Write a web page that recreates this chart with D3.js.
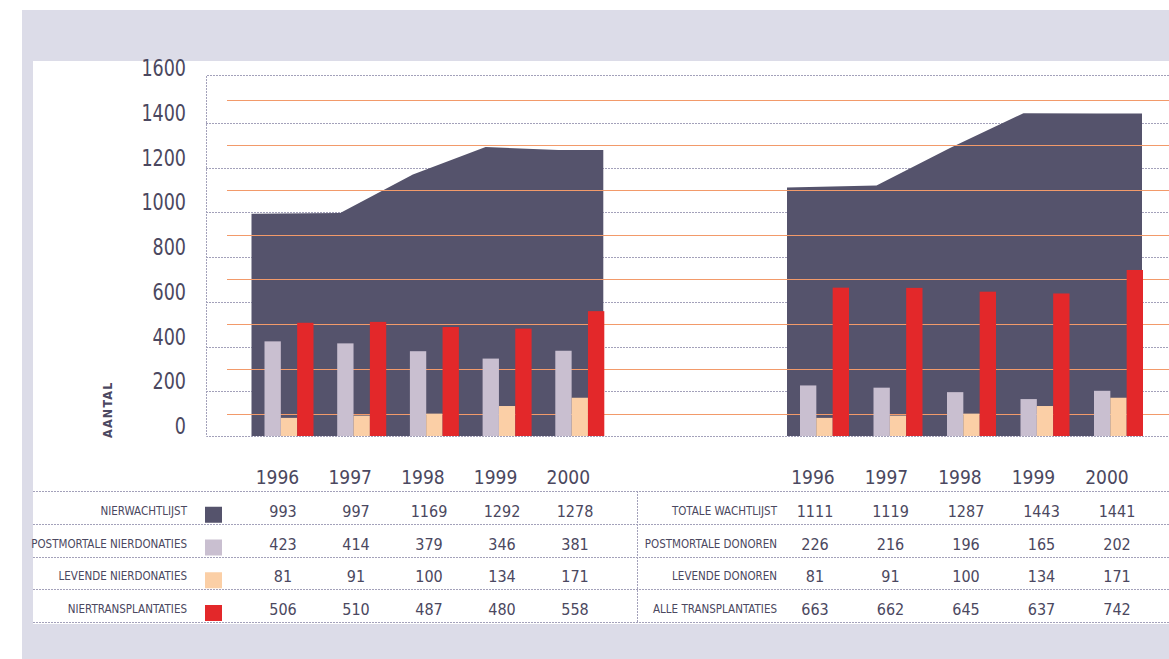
<!DOCTYPE html>
<html>
<head>
<meta charset="utf-8">
<script src="https://cdn.jsdelivr.net/npm/d3@7"></script>
<style>
  html, body { margin: 0; padding: 0; background: #ffffff; }
  svg { display: block; }
</style>
</head>
<body>
<svg id="chart" width="1169" height="659"></svg>
<script>
// Jaren en reeksen: nieren (links) en totaal (rechts)
const years = ["1996", "1997", "1998", "1999", "2000"];

const nierWachtlijst       = [993, 997, 1169, 1292, 1278];
const postmortaleNier      = [423, 414, 379, 346, 381];
const levendeNier          = [81, 91, 100, 134, 171];
const nierTransplantaties  = [506, 510, 487, 480, 558];

const totaleWachtlijst     = [1111, 1119, 1287, 1443, 1441];
const postmortaleDonoren   = [226, 216, 196, 165, 202];
const levendeDonoren       = [81, 91, 100, 134, 171];
const alleTransplantaties  = [663, 662, 645, 637, 742];

const labelsNier   = ["NIERWACHTLIJST", "POSTMORTALE NIERDONATIES", "LEVENDE NIERDONATIES", "NIERTRANSPLANTATIES"];
const labelsTotaal = ["TOTALE WACHTLIJST", "POSTMORTALE DONOREN", "LEVENDE DONOREN", "ALLE TRANSPLANTATIES"];

const yTicks       = [0, 200, 400, 600, 800, 1000, 1200, 1400, 1600];
const yOrangeLines = [100, 300, 500, 700, 900, 1100, 1300, 1500];
const axisTitle = "AANTAL";

// Kleuren
const C = {
  frame: "#dcdce8",
  text: "#4b4860",
  grid: "#a3a1ba",
  orange: "#f29a6a",
  area: "#55536c",
  post: "#c9bfd0",
  lev: "#fbcfa6",
  trans: "#e3282a"
};

const svg = d3.select("#chart");
const W = 1169, H = 659;

// Achtergrond: lila kader met wit paneel
svg.append("rect").attr("x", 22).attr("y", 10).attr("width", W - 22).attr("height", H - 10).attr("fill", C.frame);
svg.append("rect").attr("x", 33).attr("y", 61).attr("width", W - 33).attr("height", 563).attr("fill", "#ffffff");

const y = d3.scaleLinear().domain([0, 1600]).range([436, 78]);
const plotLeft = 206, plotRight = W, orangeLeft = 227;
const snap = v => Math.round(v) + 0.5;

// Grijze rasterlijnen (gestippeld)
const gGrid = svg.append("g");
gGrid.selectAll("line.g")
  .data(yTicks.filter(t => t > 0 && t < 1600))
  .join("line")
  .attr("x1", plotLeft).attr("x2", plotRight)
  .attr("y1", d => snap(y(d))).attr("y2", d => snap(y(d)))
  .attr("stroke", C.grid).attr("stroke-width", 1).attr("stroke-dasharray", "2,1");

// Kader van het grafiekvlak
gGrid.append("path")
  .attr("d", `M${plotRight},${snap(y(1600)) - 3}H${plotLeft + 0.5}V${snap(y(0))}H${plotRight}`)
  .attr("fill", "none").attr("stroke", C.grid).attr("stroke-width", 1).attr("stroke-dasharray", "2,1");

// Twee groepen: nieren en totaal
const groups = [
  { x0: 249.5, step: 72.7, wacht: nierWachtlijst, post: postmortaleNier, lev: levendeNier, trans: nierTransplantaties,
    labels: labelsNier, swatches: true, tableX: [283, 575], labelRight: 187 },
  { x0: 785, step: 73.5, wacht: totaleWachtlijst, post: postmortaleDonoren, lev: levendeDonoren, trans: alleTransplantaties,
    labels: labelsTotaal, swatches: false, tableX: [815, 1117], labelRight: 777 }
];

const inner = d3.scaleBand().domain(["post", "lev", "trans"]).range([15, 64]);

const gArea = svg.append("g");
const gOrange = svg.append("g");
const gBars = svg.append("g");

groups.forEach(g => {
  g.slot = d3.scaleBand().domain(years).range([g.x0, g.x0 + years.length * g.step]);

  // Wachtlijst als vlak
  const pts = [{ x: g.slot(years[0]) + 2, v: g.wacht[0] }];
  years.forEach((yr, i) => { if (i > 0) pts.push({ x: g.slot(yr) + 18, v: g.wacht[i] }); });
  pts.push({ x: g.slot(years[years.length - 1]) + inner.range()[1] - 1, v: g.wacht[years.length - 1] });

  const area = d3.area().x(d => d.x).y0(y(0)).y1(d => y(d.v)).curve(d3.curveLinear);
  gArea.append("path").datum(pts).attr("d", area).attr("fill", C.area);

  // Staven
  const series = [["post", g.post], ["lev", g.lev], ["trans", g.trans]];
  series.forEach(([key, vals]) => {
    gBars.selectAll(null)
      .data(years.map((yr, i) => ({ yr, v: vals[i] })))
      .join("rect")
      .attr("x", d => g.slot(d.yr) + inner(key))
      .attr("width", inner.bandwidth())
      .attr("y", d => y(d.v))
      .attr("height", d => y(0) - y(d.v))
      .attr("fill", C[key]);
  });

  // Jaartallen onder de grafiek
  svg.append("g").selectAll("text")
    .data(years)
    .join("text")
    .attr("x", d => g.slot(d) + 28)
    .attr("y", 484)
    .attr("text-anchor", "middle")
    .attr("font-family", "'DejaVu Sans Condensed', 'DejaVu Sans', sans-serif")
    .attr("font-size", 19)
    .attr("fill", C.text)
    .text(d => d);
});

// Oranje hulplijnen over het vlak, achter de staven
gOrange.selectAll("line")
  .data(yOrangeLines)
  .join("line")
  .attr("x1", orangeLeft).attr("x2", plotRight)
  .attr("y1", d => snap(y(d))).attr("y2", d => snap(y(d)))
  .attr("stroke", C.orange).attr("stroke-width", 1);

// Y-as labels (smal en hoog)
const yAxis = d3.axisLeft(y).tickValues(yTicks).tickSize(0).tickPadding(0).tickFormat(d3.format("d"));
const gAxis = svg.append("g").attr("transform", "translate(186,0)").call(yAxis);
gAxis.select(".domain").remove();
gAxis.selectAll("text")
  .attr("dy", "-2px")
  .attr("transform", "scale(1,1.2)")
  .attr("font-family", "'DejaVu Sans Condensed', sans-serif")
  .attr("font-size", 19.5)
  .attr("fill", C.text);

svg.append("text")
  .attr("transform", "translate(112,438) rotate(-90)")
  .attr("font-family", "'DejaVu Sans Condensed', sans-serif")
  .attr("font-weight", "bold")
  .attr("font-size", 12.5)
  .attr("letter-spacing", 1.2)
  .attr("fill", C.text)
  .text(axisTitle);

// Tabel
const rows = d3.scaleBand().domain(d3.range(4)).range([491, 622]);
const gTable = svg.append("g");
const lineY = [491, 524, 556.5, 589, 622];
gTable.selectAll("line.h")
  .data(lineY)
  .join("line")
  .attr("x1", 33).attr("x2", W)
  .attr("y1", d => snap(d)).attr("y2", d => snap(d))
  .attr("stroke", C.grid).attr("stroke-width", 1).attr("stroke-dasharray", "2,1");
gTable.append("line")
  .attr("x1", 637.5).attr("x2", 637.5).attr("y1", 491).attr("y2", 622)
  .attr("stroke", C.grid).attr("stroke-width", 1).attr("stroke-dasharray", "2,1");

const swatchColors = [C.area, C.post, C.lev, C.trans];

groups.forEach(g => {
  const rowValues = [g.wacht, g.post, g.lev, g.trans];
  const col = d3.scalePoint().domain(years).range(g.tableX);

  rowValues.forEach((vals, r) => {
    const cy = rows(r) + rows.bandwidth() / 2 + 3.5;
    gTable.append("text")
      .attr("x", g.labelRight)
      .attr("y", cy + 4)
      .attr("text-anchor", "end")
      .attr("font-family", "'DejaVu Sans Condensed', sans-serif")
      .attr("font-size", 11.5)
      .attr("fill", C.text)
      .text(g.labels[r]);

    if (g.swatches) {
      gTable.append("rect")
        .attr("x", 205)
        .attr("y", rows(r) + rows.bandwidth() - 17)
        .attr("width", 17).attr("height", 16)
        .attr("fill", swatchColors[r]);
    }

    gTable.selectAll(null)
      .data(years.map((yr, i) => ({ yr, v: vals[i] })))
      .join("text")
      .attr("x", d => col(d.yr))
      .attr("y", cy + 6)
      .attr("text-anchor", "middle")
      .attr("font-family", "'DejaVu Sans Condensed', sans-serif")
      .attr("font-size", 16)
      .attr("fill", C.text)
      .text(d => d.v);
  });
});
</script>
</body>
</html>
